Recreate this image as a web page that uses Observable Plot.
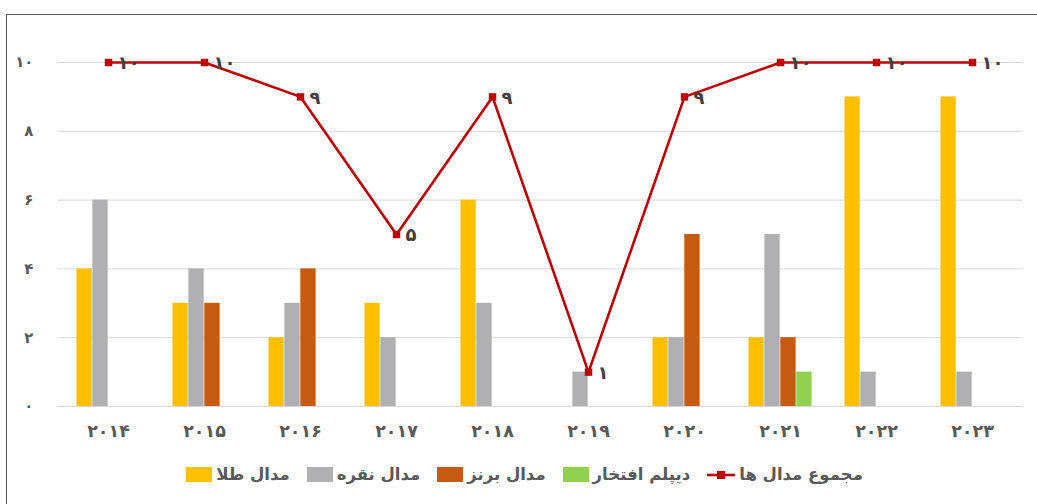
<!DOCTYPE html>
<html><head><meta charset="utf-8">
<script src="https://cdn.jsdelivr.net/npm/d3@7"></script>
<script src="https://cdn.jsdelivr.net/npm/@observablehq/plot@0.6"></script>
<style>
html,body{margin:0;padding:0;background:#fff;overflow:hidden;}
#wrap{position:relative;width:1037px;height:504px;font-family:"DejaVu Sans",sans-serif;}
#frame{position:absolute;left:6px;top:14px;width:1100px;height:600px;border:1px solid #595959;box-sizing:border-box;pointer-events:none;}
#chart{position:absolute;left:0;top:0;}
#legend{position:absolute;left:0;top:465px;width:1037px;display:flex;justify-content:center;align-items:center;gap:17px;font-weight:bold;font-size:16.5px;color:#595959;padding-left:12px;box-sizing:border-box;}
.item{display:flex;align-items:center;gap:4px;}
.sw{width:26px;height:15px;display:inline-block;}
</style></head><body>
<div id="wrap"><div id="chart"></div><div id="frame"></div><div id="legend"></div></div>
<script>
const years = ["۲۰۱۴","۲۰۱۵","۲۰۱۶","۲۰۱۷","۲۰۱۸","۲۰۱۹","۲۰۲۰","۲۰۲۱","۲۰۲۲","۲۰۲۳"];
const gold    = [4,3,2,3,6,0,2,2,9,9];
const silver  = [6,4,3,2,3,1,2,5,1,1];
const bronze  = [0,3,4,0,0,0,5,2,0,0];
const diploma = [0,0,0,0,0,0,0,1,0,0];
const total   = [10,10,9,5,9,1,9,10,10,10];
const seriesNames = ["مدال طلا","مدال نقره","مدال برنز","دیپلم افتخار"];
const seriesColors = ["#FFC000","#B0B0B4","#C55A11","#92D050"];
const totalName = "مجموع مدال ها";
const yTicks = [0,2,4,6,8,10];
const yTickLabels = ["۰","۲","۴","۶","۸","۱۰"];
const totalLabels = total.map(v => String(v).replace(/\d/g, d => "۰۱۲۳۴۵۶۷۸۹"[d]));

const W = 1037, H = 451, mL = 57, mR = 14, mT = 62, mB = 45;
const band = (W - mL - mR) / years.length;
const barW = band * 0.165;

const seriesVals = [gold, silver, bronze, diploma];
const barMarks = seriesVals.map((vals, s) => {
  const left = band / 2 - 2 * barW + s * barW;
  return Plot.barY(years.map((y, i) => ({year: y, v: vals[i]})).filter(d => d.v > 0), {
    x: "year", y: "v", fill: seriesColors[s],
    insetLeft: left, insetRight: band - left - barW
  });
});
const lineData = years.map((y, i) => ({year: y, v: total[i], label: totalLabels[i]}));

const plot = Plot.plot({
  width: W, height: H,
  marginLeft: mL, marginRight: mR, marginTop: mT, marginBottom: mB,
  style: {fontFamily: "DejaVu Sans, sans-serif", background: "transparent"},
  x: {domain: years, padding: 0, tickSize: 0, tickPadding: 18, label: null},
  y: {domain: [0, 10], ticks: yTicks, tickFormat: (d) => yTickLabels[yTicks.indexOf(d)], tickSize: 0, tickPadding: 24, label: null},
  marks: [
    Plot.ruleY(yTicks, {stroke: "#D9D9D9", strokeWidth: 1}),
    ...barMarks,
    Plot.lineY(lineData, {x: "year", y: "v", stroke: "#C00000", strokeWidth: 2.6}),
    Plot.dot(lineData, {x: "year", y: "v", symbol: "square", r: 4.2, fill: "#C00000", stroke: "none"}),
    Plot.text(lineData, {x: "year", y: "v", text: "label", textAnchor: "start", dx: 9, dy: 1, fill: "#404040", fontWeight: "bold", fontSize: 18})
  ]
});
plot.querySelectorAll("g[aria-label='x-axis tick label']").forEach(g => { g.setAttribute("font-size", "17.5"); g.setAttribute("font-weight", "bold"); g.setAttribute("fill", "#595959"); });
plot.querySelectorAll("g[aria-label='y-axis tick label']").forEach(g => { g.setAttribute("font-size", "15"); g.setAttribute("font-weight", "bold"); g.setAttribute("fill", "#595959"); });
document.getElementById("chart").appendChild(plot);

const legend = document.getElementById("legend");
seriesNames.forEach((n, i) => {
  const it = document.createElement("div"); it.className = "item";
  it.innerHTML = `<span class="sw" style="background:${seriesColors[i]}"></span><span>${n}</span>`;
  legend.appendChild(it);
});
const li = document.createElement("div"); li.className = "item";
li.innerHTML = `<svg width="28" height="15"><line x1="0" y1="8" x2="28" y2="8" stroke="#C00000" stroke-width="2.6"/><rect x="10" y="4" width="8" height="8" fill="#C00000"/></svg><span>${totalName}</span>`;
legend.appendChild(li);
</script>
</body></html>
